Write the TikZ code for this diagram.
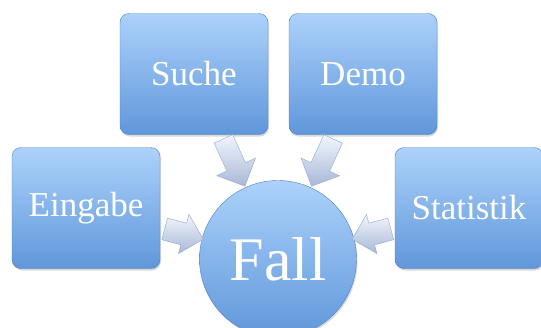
\documentclass[tikz,border=0pt]{standalone}
\usepackage{fontspec}
\setmainfont{Liberation Serif}
\usetikzlibrary{shapes.arrows,shadows}

\definecolor{boxtop}{RGB}{172,210,251}
\definecolor{boxbottom}{RGB}{96,151,218}
\definecolor{boxedge}{RGB}{80,128,192}
\definecolor{arrowtop}{RGB}{242,246,253}
\definecolor{arrowbottom}{RGB}{168,184,214}
\definecolor{arrowedge}{RGB}{150,166,200}

\begin{document}
\begin{tikzpicture}[x = 1pt, y = -1pt,
  topic/.style = {rectangle, rounded corners = 9pt, draw = boxedge, top color = boxtop, bottom color = boxbottom,
    minimum width = 148pt, minimum height = 121pt, text = white, font = \fontsize{35}{40}\selectfont,
    drop shadow = {opacity = .3, shadow xshift = 1pt, shadow yshift = -2pt}},
  hub/.style = {circle, draw = boxedge, top color = boxtop, bottom color = boxbottom, minimum size = 157pt,
    text = white, font = \fontsize{62}{72}\selectfont,
    drop shadow = {opacity = .3, shadow xshift = 1pt, shadow yshift = -2pt}},
  flow/.style = {single arrow, sloped, allow upside down, inner sep = 0pt, text depth = 0pt, draw = arrowedge,
    line width = .4pt, top color = arrowtop, bottom color = arrowbottom},
  longflow/.style = {flow, text height = 20pt, minimum height = 52pt, single arrow head extend = 11pt},
  shortflow/.style = {flow, text height = 22pt, minimum height = 40pt, single arrow head extend = 9pt}]

\useasboundingbox (0, 0) rectangle (541, 327);

\node[hub] (fall) at (278, 259) {Fall};

\node[topic] (suche) at (194, 74) {Suche};
\node[topic] (demo) at (363, 74) {Demo};
\node[topic] (eingabe) at (86, 208) {Eingabe};
\node[topic] (statistik) at (469, 208) {Statistik};

\path[allow upside down] (suche) -- (fall) node[longflow, pos = .44] {};
\path[allow upside down] (demo) -- (fall) node[longflow, pos = .44] {};
\path[allow upside down] (eingabe) -- (fall) node[shortflow, pos = .44] {};
\path[allow upside down] (statistik) -- (fall) node[shortflow, pos = .44] {};

\end{tikzpicture}
\end{document}
